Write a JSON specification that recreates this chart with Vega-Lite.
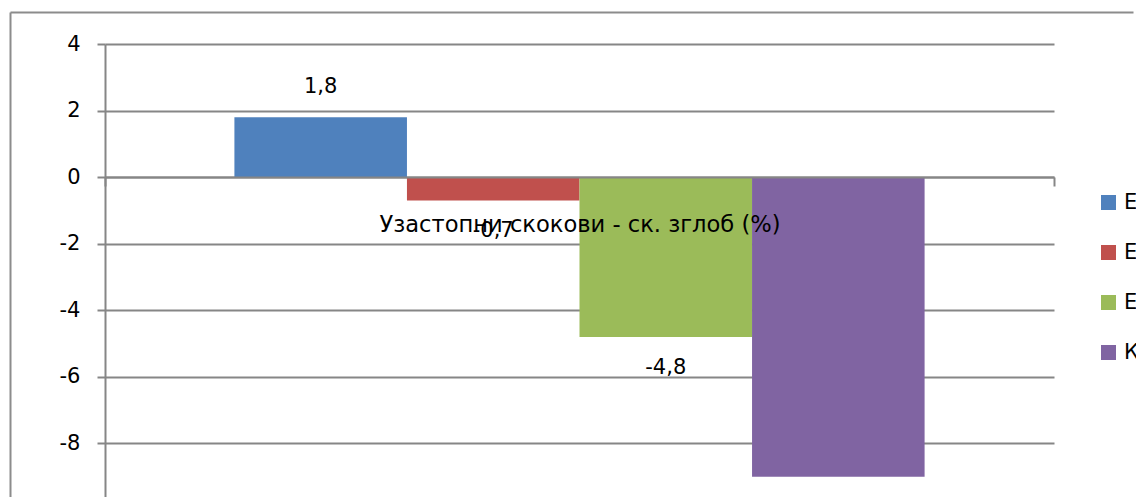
{
  "$schema": "https://vega.github.io/schema/vega-lite/v6.json",
  "width": 949,
  "height": 466,
  "autosize": {"type": "none"},
  "padding": {"left": 105, "top": 44, "right": 82, "bottom": 0},
  "background": "white",
  "config": {
    "view": {"stroke": null},
    "font": "DejaVu Sans",
    "locale": {"number": {"decimal": ",", "thousands": ".", "grouping": [3], "currency": ["", ""], "minus": "-"}}
  },
  "data": {
    "values": [
      {"category": "Узастопни скокови - ск. зглоб (%)", "series": "Експериментална група 1", "value": 1.8},
      {"category": "Узастопни скокови - ск. зглоб (%)", "series": "Експериментална група 2", "value": -0.7},
      {"category": "Узастопни скокови - ск. зглоб (%)", "series": "Експериментална група 3", "value": -4.8},
      {"category": "Узастопни скокови - ск. зглоб (%)", "series": "Контролна група", "value": -9.0}
    ]
  },
  "layer": [
    {
      "layer": [
        {
          "mark": {"type": "bar"},
          "encoding": {
            "x": {
              "field": "category", "type": "nominal",
              "scale": {"paddingInner": 0, "paddingOuter": 0},
              "axis": {
                "orient": "bottom", "offset": -333, "zindex": 1,
                "domain": true, "domainColor": "#868686", "domainWidth": 2,
                "ticks": true, "tickBand": "extent", "tickSize": 9, "tickColor": "#868686", "tickWidth": 2,
                "labelFontSize": 22.6, "labelColor": "#000000", "labelPadding": 27, "labelLimit": 1000, "labelAngle": 0,
                "grid": false, "title": null
              }
            },
            "xOffset": {
              "field": "series", "type": "nominal", "sort": null,
              "scale": {"paddingInner": 0, "paddingOuter": 0.75}
            },
            "y": {
              "field": "value", "type": "quantitative",
              "scale": {"domain": [-10, 4], "nice": false, "zero": false},
              "axis": {
                "values": [-10, -8, -6, -4, -2, 0, 2, 4],
                "domain": true, "domainColor": "#868686", "domainWidth": 2,
                "ticks": true, "tickSize": 8, "tickColor": "#868686", "tickWidth": 2,
                "grid": true, "gridColor": "#868686", "gridWidth": 2,
                "labelFontSize": 21, "labelColor": "#000000", "labelPadding": 17,
                "title": null
              }
            },
            "color": {
              "field": "series", "type": "nominal", "sort": null,
              "scale": {"range": ["#4F81BD", "#C0504D", "#9BBB59", "#8064A2"]},
              "legend": {
                "orient": "none", "legendX": 993, "legendY": 148,
                "title": null, "padding": 0,
                "symbolType": "square", "symbolSize": 225, "symbolStrokeWidth": 0, "symbolOpacity": 1,
                "labelFontSize": 21, "labelColor": "#000000", "labelOffset": 5, "labelLimit": 1000,
                "rowPadding": 28
              }
            }
          }
        },
        {
          "mark": {"type": "text", "fontSize": 21, "color": "#000000", "dy": {"expr": "datum.value >= 0 ? -30 : 31"}},
          "encoding": {
            "x": {"field": "category", "type": "nominal"},
            "xOffset": {"field": "series", "type": "nominal", "sort": null},
            "y": {"field": "value", "type": "quantitative"},
            "text": {"field": "value", "type": "quantitative", "format": ".1f"}
          }
        }
      ]
    },
    {
      "mark": {"type": "point", "opacity": 0},
      "encoding": {
        "x": {
          "field": "series", "type": "nominal",
          "scale": {"range": [-95, 1028]},
          "axis": {"orient": "top", "offset": 32, "labels": false, "ticks": false, "grid": false, "title": null, "domainColor": "#8c8c8c", "domainWidth": 2}
        },
        "y": {
          "field": "value", "type": "quantitative",
          "scale": {"range": [453, -32]},
          "axis": {"orient": "left", "offset": 95, "labels": false, "ticks": false, "grid": false, "title": null, "domainColor": "#8c8c8c", "domainWidth": 2}
        }
      }
    }
  ],
  "resolve": {"scale": {"x": "independent", "y": "independent"}}
}
